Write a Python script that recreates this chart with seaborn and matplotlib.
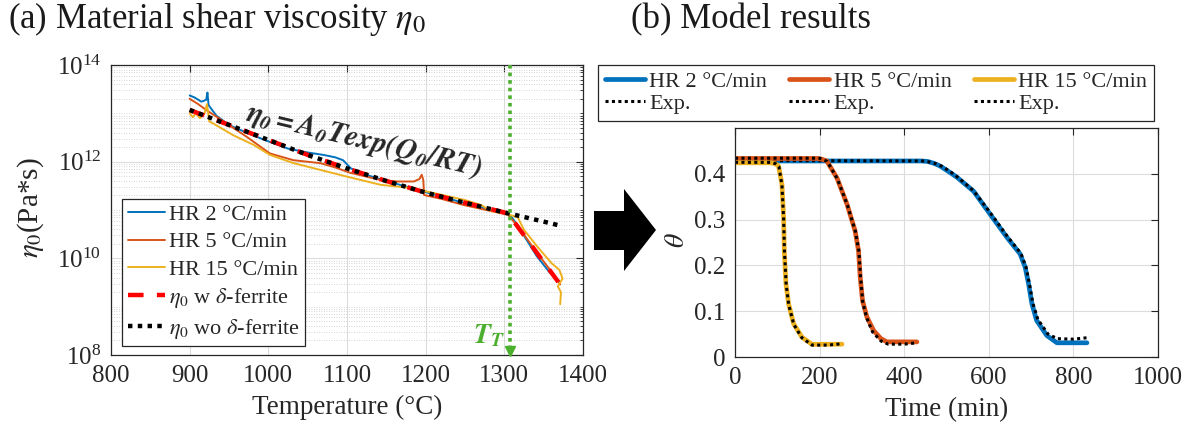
import numpy as np
import pandas as pd
import matplotlib
matplotlib.use("Agg")
import matplotlib.pyplot as plt
import seaborn as sns
from matplotlib.lines import Line2D
from matplotlib.patches import Polygon
from matplotlib.ticker import FixedLocator, LogLocator, NullFormatter, LogFormatterMathtext

# ---------------- data: (a) shear viscosity vs temperature ----------------
# temperatures in degC, viscosity given as log10(Pa*s)
hr2_T = [900, 906, 915, 921, 922.6, 924, 934, 950, 975, 1000, 1025, 1050, 1070, 1085,
         1095, 1105, 1120, 1150, 1200, 1250, 1290, 1305, 1310, 1320, 1341, 1358, 1370]
hr2_log_eta = [13.37, 13.33, 13.24, 13.28, 13.43, 13.17, 12.95, 12.76, 12.58, 12.42, 12.27,
               12.19, 12.14, 12.09, 12.03, 11.86, 11.75, 11.60, 11.37, 11.14, 10.97, 10.90,
               10.84, 10.60, 10.05, 9.70, 9.52]

hr5_T = [900, 910, 921, 947, 972, 1002, 1032, 1066, 1085, 1104, 1143, 1164, 1185, 1192,
         1195, 1197, 1198, 1220, 1249, 1280, 1305, 1320, 1340, 1360, 1371]
hr5_log_eta = [13.30, 13.20, 13.07, 12.79, 12.52, 12.17, 12.03, 11.97, 11.88, 11.77, 11.62,
               11.59, 11.59, 11.64, 11.73, 11.62, 11.31, 11.23, 11.10, 10.99, 10.90, 10.60,
               10.15, 9.72, 9.46]

hr15_T = [900, 904, 908, 913, 919, 922, 925, 930, 955, 981, 1002, 1032, 1066, 1100, 1143,
          1185, 1202, 1249, 1271, 1283, 1300, 1317, 1325, 1342, 1360, 1370, 1374, 1368,
          1372, 1371]
hr15_log_eta = [13.00, 12.92, 13.00, 12.90, 13.00, 13.19, 12.83, 12.79, 12.55, 12.35, 12.14,
                11.97, 11.83, 11.69, 11.52, 11.45, 11.38, 11.21, 11.10, 10.98, 10.93, 10.85,
                10.59, 10.24, 9.90, 9.76, 9.58, 9.42, 9.30, 9.05]

fit_T = [900, 950, 1000, 1050, 1100, 1150, 1200, 1250, 1300, 1350, 1370]
fit_log_eta = [13.07, 12.76, 12.45, 12.14, 11.86, 11.60, 11.36, 11.15, 10.95, 10.76, 10.68]

ferrite_T = [900, 950, 1000, 1050, 1100, 1150, 1200, 1250, 1300, 1305, 1370]
ferrite_log_eta = [13.07, 12.76, 12.45, 12.14, 11.86, 11.60, 11.36, 11.15, 10.95, 10.92, 9.48]

T_transition = 1307

# ---------------- data: (b) model results, theta vs time ----------------
hr2_t = [0, 440, 455, 470, 485, 508, 524, 564, 603, 643, 674, 686, 694, 702, 713, 737, 761, 832]
hr2_theta = [0.428, 0.428, 0.427, 0.423, 0.417, 0.403, 0.393, 0.362, 0.312, 0.261, 0.225,
             0.196, 0.160, 0.116, 0.080, 0.047, 0.031, 0.031]
hr2_exp_t = [0, 450, 475, 490, 510, 530, 565, 605, 645, 676, 688, 696, 704, 716, 740, 762, 800, 832]
hr2_exp_theta = [0.429, 0.428, 0.422, 0.416, 0.404, 0.390, 0.362, 0.313, 0.262, 0.226, 0.196,
                 0.160, 0.118, 0.082, 0.050, 0.040, 0.039, 0.042]

hr5_t = [0, 195, 205, 217, 241, 265, 284, 292, 296, 301.5, 312, 327.5, 345, 359, 430]
hr5_theta = [0.4335, 0.4335, 0.432, 0.428, 0.391, 0.333, 0.275, 0.232, 0.174, 0.123, 0.087,
             0.058, 0.040, 0.033, 0.033]
hr5_exp_t = [0, 200, 218, 242, 266, 285, 293, 297, 302, 311, 325, 345, 362, 400, 430]
hr5_exp_theta = [0.434, 0.434, 0.427, 0.389, 0.331, 0.273, 0.230, 0.172, 0.120, 0.086, 0.055,
                 0.035, 0.028, 0.028, 0.031]

hr15_t = [0, 85, 95, 103, 111, 115, 116.5, 120.4, 126.7, 138.5, 158, 182, 253]
hr15_theta = [0.424, 0.424, 0.422, 0.417, 0.377, 0.304, 0.232, 0.160, 0.116, 0.073, 0.0435,
              0.0276, 0.028]
hr15_exp_t = [0, 85, 96, 104, 111, 115, 117, 121, 127, 139, 158, 182, 220, 253]
hr15_exp_theta = [0.425, 0.425, 0.422, 0.415, 0.375, 0.300, 0.230, 0.158, 0.114, 0.071, 0.042,
                  0.026, 0.026, 0.029]

# ---------------- style ----------------
sns.set_style("white")
plt.rcParams['font.family'] = ['Liberation Serif', 'DejaVu Serif']
plt.rcParams['mathtext.fontset'] = 'stix'
plt.rcParams['axes.linewidth'] = 0.9

C_BLUE = '#0072BD'
C_ORANGE = '#D95319'
C_YELLOW = '#EDB120'
C_GREEN = '#4CAF2E'
C_AXIS = '#262626'
GRID = '#DCDCDC'

W, H = 1191, 432
fig = plt.figure(figsize=(W / 100, H / 100), dpi=100)


def fig_box(x0, y0, x1, y1):
    return [x0 / W, 1 - y1 / H, (x1 - x0) / W, (y1 - y0) / H]


ax_a = fig.add_axes(fig_box(111, 65, 583, 355))
ax_b = fig.add_axes(fig_box(735, 128, 1158, 357))


def line(ax, x, y, **kw):
    df = pd.DataFrame({'x': x, 'y': y})
    sns.lineplot(data=df, x='x', y='y', ax=ax, sort=False, estimator=None,
                 legend=False, **kw)


def tidy(ax):
    for s in ax.spines.values():
        s.set_color(C_AXIS)
        s.set_linewidth(0.9)
    ax.tick_params(which='both', direction='in', top=True, right=True,
                   colors=C_AXIS, labelcolor=C_AXIS)
    ax.tick_params(which='major', length=5, width=0.8, labelsize=18, pad=7)
    ax.tick_params(which='minor', length=2.5, width=0.6)
    ax.set_xlabel('')
    ax.set_ylabel('')
    ax.set_axisbelow(True)


# ---------------- panel (a) ----------------
ax_a.set_yscale('log')
line(ax_a, hr2_T, 10 ** np.array(hr2_log_eta), color=C_BLUE, linewidth=1.4)
line(ax_a, hr5_T, 10 ** np.array(hr5_log_eta), color=C_ORANGE, linewidth=1.4)
line(ax_a, hr15_T, 10 ** np.array(hr15_log_eta), color=C_YELLOW, linewidth=1.4)
line(ax_a, ferrite_T, 10 ** np.array(ferrite_log_eta), color='#FF0000', linewidth=3.2,
     linestyle=(0, (3.5, 3.0)))
line(ax_a, fit_T, 10 ** np.array(fit_log_eta), color='black', linewidth=3.2,
     linestyle=(0, (1, 1.2)))

ax_a.set_xlim(800, 1400)
ax_a.set_ylim(1e8, 1e14)
ax_a.xaxis.set_major_locator(FixedLocator([800, 900, 1000, 1100, 1200, 1300, 1400]))
ax_a.yaxis.set_major_locator(FixedLocator([1e8, 1e10, 1e12, 1e14]))
ax_a.yaxis.set_major_formatter(LogFormatterMathtext())
ax_a.yaxis.set_minor_locator(LogLocator(base=10, subs=np.arange(1, 10), numticks=40))
ax_a.yaxis.set_minor_formatter(NullFormatter())
ax_a.grid(True, which='major', color=GRID, linewidth=0.8)
ax_a.grid(True, which='minor', axis='y', color='#C8C8C8', linewidth=0.6, linestyle=(0, (1, 2)))
tidy(ax_a)

# transition temperature marker
ax_a.plot([T_transition, T_transition], [1e14, 1.35e8], color=C_GREEN, linewidth=2.6,
          linestyle=(0, (1, 1.1)), zorder=4)
ax_a.plot([T_transition], [1.22e8], marker='v', markersize=7, color=C_GREEN,
          linestyle='none', zorder=4, clip_on=False)
ax_a.text(1301, 1.75e8, r'$\mathbfit{T_T}$', color=C_GREEN, fontsize=20,
          ha='right', va='baseline')

ax_a.text(1121, 10 ** 12.43, r'$\mathbfit{\eta_0 = A_0Texp(Q_0/RT)}$', fontsize=21,
          rotation=-13.5, ha='center', va='center', rotation_mode='anchor')

ax_a.set_xlabel('Temperature (°C)', fontsize=19.5, color=C_AXIS, labelpad=6)

leg_a_handles = [
    Line2D([], [], color=C_BLUE, linewidth=1.4),
    Line2D([], [], color=C_ORANGE, linewidth=1.4),
    Line2D([], [], color=C_YELLOW, linewidth=1.4),
    Line2D([], [], color='#FF0000', linewidth=3.2, linestyle=(0, (3.5, 3.0))),
    Line2D([], [], color='black', linewidth=3.2, linestyle=(0, (1, 1.2))),
]
leg_a_labels = ['HR 2 °C/min', 'HR 5 °C/min', 'HR 15 °C/min',
                r'$\eta_0$ w $\delta$-ferrite', r'$\eta_0$ wo $\delta$-ferrite']
leg_a = ax_a.legend(leg_a_handles, leg_a_labels, loc='upper left',
                    bbox_to_anchor=((122 - 111) / 472, (355 - 199) / 290),
                    borderaxespad=0, fontsize=16, frameon=True, fancybox=False,
                    handlelength=1.7, handletextpad=0.15, labelspacing=0.3,
                    borderpad=0.25, edgecolor=C_AXIS, framealpha=1)
leg_a.get_frame().set_linewidth(0.9)

# ---------------- panel (b) ----------------
line(ax_b, hr2_t, hr2_theta, color=C_BLUE, linewidth=3.4)
line(ax_b, hr2_exp_t, hr2_exp_theta, color='black', linewidth=2.2, linestyle=(0, (1, 1.1)))
line(ax_b, hr5_t, hr5_theta, color=C_ORANGE, linewidth=3.4)
line(ax_b, hr5_exp_t, hr5_exp_theta, color='black', linewidth=2.2, linestyle=(0, (1, 1.1)))
line(ax_b, hr15_t, hr15_theta, color=C_YELLOW, linewidth=3.4)
line(ax_b, hr15_exp_t, hr15_exp_theta, color='black', linewidth=2.2, linestyle=(0, (1, 1.1)))

ax_b.set_xlim(0, 1000)
ax_b.set_ylim(0, 0.5)
ax_b.xaxis.set_major_locator(FixedLocator([0, 200, 400, 600, 800, 1000]))
ax_b.yaxis.set_major_locator(FixedLocator([0, 0.1, 0.2, 0.3, 0.4]))
ax_b.set_yticklabels(['0', '0.1', '0.2', '0.3', '0.4'])
ax_b.grid(True, which='major', color=GRID, linewidth=0.8)
tidy(ax_b)
ax_b.set_xlabel('Time (min)', fontsize=19.5, color=C_AXIS, labelpad=6)

exp_handle = Line2D([], [], color='black', linewidth=2.2, linestyle=(0, (1, 1.1)))
leg_b_handles = [Line2D([], [], color=C_BLUE, linewidth=3.4), exp_handle,
                 Line2D([], [], color=C_ORANGE, linewidth=3.4), exp_handle,
                 Line2D([], [], color=C_YELLOW, linewidth=3.4), exp_handle]
leg_b_labels = ['HR 2 °C/min', 'Exp.', 'HR 5 °C/min', 'Exp.', 'HR 15 °C/min', 'Exp.']
leg_b = fig.legend(leg_b_handles, leg_b_labels, ncol=3, loc='upper left',
                   bbox_to_anchor=(598 / W, 1 - 65 / H), borderaxespad=0,
                   fontsize=16, frameon=True, fancybox=False, handlelength=1.8,
                   handletextpad=0.2, columnspacing=1.0, labelspacing=0.05,
                   borderpad=0.3, edgecolor=C_AXIS, framealpha=1)
leg_b.get_frame().set_linewidth(0.9)

# ---------------- figure-level texts ----------------
fig.text(31 / W, 1 - 208 / H, r'$\eta_0$(Pa*s)', rotation=90, fontsize=21,
         ha='center', va='center', color=C_AXIS)
fig.text(678 / W, 1 - 240 / H, r'$\theta$', rotation=90, fontsize=20,
         ha='center', va='center', color=C_AXIS)
fig.text(8 / W, 1 - 28 / H, r'(a) Material shear viscosity $\eta_0$', fontsize=25,
         ha='left', va='baseline', color='#1A1A1A')
fig.text(631 / W, 1 - 28 / H, '(b) Model results', fontsize=25,
         ha='left', va='baseline', color='#1A1A1A')

# block arrow between the panels
arrow_px = [(594, 211), (624, 211), (624, 189), (656, 230), (624, 271), (624, 250), (594, 250)]
fig.patches.append(Polygon([(x / W, 1 - y / H) for x, y in arrow_px], closed=True,
                           transform=fig.transFigure, facecolor='black', edgecolor='none'))

fig.savefig('out.png', dpi=100)
